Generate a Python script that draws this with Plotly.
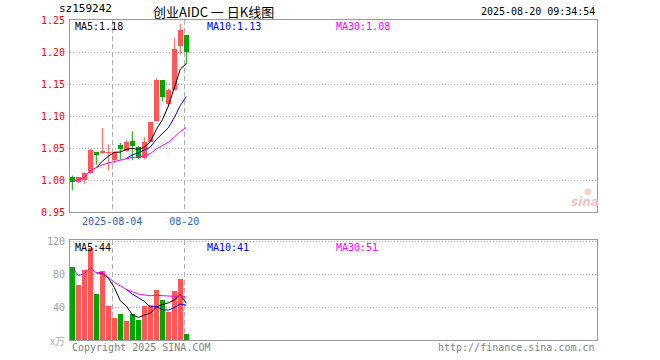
import plotly.graph_objects as go
import pandas as pd

# ---------------- data ----------------
dates = ["07-24", "07-25", "07-28", "07-29", "07-30", "07-31", "08-01", "08-04",
         "08-05", "08-06", "08-07", "08-08", "08-11", "08-12", "08-13", "08-14",
         "08-15", "08-18", "08-19", "08-20"]
open_ = [1.004, 0.997, 1.000, 1.011, 1.043, 1.042, 1.042, 1.032, 1.054, 1.046,
         1.061, 1.052, 1.035, 1.060, 1.092, 1.156, 1.118, 1.141, 1.210, 1.227]
high = [1.007, 1.004, 1.012, 1.048, 1.044, 1.081, 1.056, 1.043, 1.058, 1.062,
        1.076, 1.053, 1.067, 1.091, 1.159, 1.156, 1.143, 1.222, 1.244, 1.227]
low = [0.984, 0.995, 0.994, 1.010, 1.024, 1.041, 1.015, 1.026, 1.032, 1.044,
       1.031, 1.032, 1.032, 1.059, 1.091, 1.123, 1.116, 1.140, 1.196, 1.181]
close = [0.997, 1.004, 1.011, 1.047, 1.039, 1.045, 1.043, 1.043, 1.048, 1.060,
         1.053, 1.035, 1.060, 1.090, 1.156, 1.129, 1.141, 1.205, 1.235, 1.200]
volume = [89.2, 67.6, 85.6, 112.0, 55.6, 84.4, 41.2, 26.8, 31.6, 23.2,
          31.6, 24.4, 41.2, 42.4, 60.4, 48.4, 34.0, 59.2, 74.8, 7.6]

price_ticks = [0.95, 1.00, 1.05, 1.10, 1.15, 1.20, 1.25]
vol_ticks = [40, 80, 120]
date_marks = ["2025-08-04", "08-20"]
date_mark_idx = [7, 19]

header_code = "sz159242"
header_title = "创业AIDC 一 日K线图"
header_time = "2025-08-20 09:34:54"
price_ma_text = ["MA5:1.18", "MA10:1.13", "MA30:1.08"]
vol_ma_text = ["MA5:44", "MA10:41", "MA30:51"]

# ---------------- styles ----------------
RED = "#ff5757"
GREEN = "#00a600"
MA_COLORS = ["#000000", "#0000ff", "#ff00ff"]
FRAME = "#9a9a9a"
GRID = "#b0b0b0"
MONO = "DejaVu Sans Mono"

idx = list(range(len(close)))
up = [c >= o for o, c in zip(open_, close)]
colors = [RED if u else GREEN for u in up]

cs = pd.Series(close)
vs = pd.Series(volume)
price_ma = [cs.rolling(5).mean(), cs.rolling(10).mean(), cs.rolling(30, min_periods=1).mean()]
vol_ma = [vs.rolling(5).mean(), vs.rolling(10).mean(), vs.rolling(30, min_periods=1).mean()]

fig = go.Figure()

# candle wicks
for col in (RED, GREEN):
    xw, yw = [], []
    for i in idx:
        if colors[i] == col:
            xw += [i, i, None]
            yw += [low[i], high[i], None]
    fig.add_trace(go.Scatter(x=xw, y=yw, mode="lines", line=dict(color=col, width=1),
                             xaxis="x", yaxis="y", hoverinfo="skip"))

# candle bodies
fig.add_trace(go.Bar(
    x=idx,
    base=[min(o, c) for o, c in zip(open_, close)],
    y=[max(abs(c - o), 0.0016) for o, c in zip(open_, close)],
    width=0.83, marker=dict(color=colors, line=dict(width=0)),
    xaxis="x", yaxis="y"))

# price MAs
for ma, col in zip(price_ma, MA_COLORS):
    fig.add_trace(go.Scatter(x=idx, y=ma, mode="lines", line=dict(color=col, width=1),
                             xaxis="x", yaxis="y", connectgaps=False))

# volume bars
fig.add_trace(go.Bar(x=idx, y=volume, width=0.83,
                     marker=dict(color=colors, line=dict(width=0)),
                     xaxis="x2", yaxis="y2"))
for ma, col in zip(vol_ma, MA_COLORS):
    fig.add_trace(go.Scatter(x=idx, y=ma, mode="lines", line=dict(color=col, width=1),
                             xaxis="x2", yaxis="y2"))

xrange = [-0.383, 87.45]
mark_x = [i - 0.35 for i in date_mark_idx]

common_x = dict(range=xrange, showgrid=True, gridcolor=GRID, griddash="5px,3px", gridwidth=1,
                showline=True, linecolor=FRAME, linewidth=1, mirror=True, ticks="",
                zeroline=False, fixedrange=True)

fig.update_layout(
    width=660, height=360,
    margin=dict(l=70, r=63, t=20, b=20),
    paper_bgcolor="white", plot_bgcolor="white",
    showlegend=False, barmode="overlay", bargap=0,
    xaxis=dict(domain=[0, 1], anchor="y", tickvals=mark_x, ticktext=date_marks,
               tickfont=dict(family=MONO, size=10, color="#2a62c4"), ticklabelstandoff=0,
               **common_x),
    xaxis2=dict(domain=[0, 1], anchor="y2", matches="x", tickvals=mark_x,
                showticklabels=False, **common_x),
    yaxis=dict(domain=[0.4, 1], range=[0.95, 1.25], tickvals=price_ticks,
               ticktext=[f"{v:.2f}" for v in price_ticks],
               tickfont=dict(family=MONO, size=10, color="#ff0000"),
               showgrid=True, gridcolor=GRID, griddash="1px,2px", gridwidth=1,
               showline=True, linecolor=FRAME, mirror=True, ticks="", zeroline=False,
               ticklabelstandoff=2, fixedrange=True),
    yaxis2=dict(domain=[0, 0.3125], range=[0, 122], tickvals=vol_ticks,
                ticktext=[str(v) for v in vol_ticks],
                tickfont=dict(family=MONO, size=10, color="#a0a0a0"),
                showgrid=True, gridcolor=GRID, griddash="1px,2px", gridwidth=1,
                showline=True, linecolor=FRAME, mirror=True, ticks="", zeroline=False,
                ticklabelstandoff=2, fixedrange=True),
)

def px_x(x):
    return (x - 70) / 527.0

def px_y(y):
    return (340 - y) / 320.0

ann = []
ann.append(dict(text=header_code, x=px_x(57), y=px_y(9), xanchor="left", yanchor="middle",
                font=dict(family=MONO, size=11, color="#000")))
ann.append(dict(text=header_title, x=px_x(213), y=px_y(11), xanchor="center", yanchor="middle",
                font=dict(family="Noto Sans CJK SC", size=13, color="#000")))
ann.append(dict(text=header_time, x=px_x(597), y=px_y(11), xanchor="right", yanchor="middle",
                font=dict(family=MONO, size=10, color="#000")))
for t, xx, col in zip(price_ma_text, [73, 205, 334], MA_COLORS):
    ann.append(dict(text=t, x=px_x(xx), y=px_y(27), xanchor="left", yanchor="middle",
                    font=dict(family=MONO, size=10, color=col)))
for t, xx, col in zip(vol_ma_text, [73, 205, 334], MA_COLORS):
    ann.append(dict(text=t, x=px_x(xx), y=px_y(247), xanchor="left", yanchor="middle",
                    font=dict(family=MONO, size=10, color=col)))
ann.append(dict(text="x万", x=px_x(67), y=px_y(340), xanchor="right", yanchor="middle",
                font=dict(family="Noto Sans CJK SC", size=10, color="#b0b0b0")))
ann.append(dict(text="Copyright 2025 SINA.COM", x=px_x(70), y=px_y(347), xanchor="left",
                yanchor="middle", font=dict(family=MONO, size=10, color="#808080")))
ann.append(dict(text="http://finance.sina.com.cn", x=px_x(597), y=px_y(347), xanchor="right",
                yanchor="middle", font=dict(family=MONO, size=10, color="#808080")))
ann.append(dict(text="<b><i>sina</i></b>", x=px_x(585), y=px_y(202), xanchor="center",
                yanchor="middle", font=dict(family="DejaVu Sans", size=12, color="#ecc4c4")))
ann.append(dict(text="●", x=px_x(588), y=px_y(191), xanchor="center",
                yanchor="middle", font=dict(family="DejaVu Sans", size=9, color="#f2d2d2")))
for a in ann:
    a.update(xref="paper", yref="paper", showarrow=False)
fig.update_layout(annotations=ann)

fig.write_html("out.html",
               config={"displayModeBar": False, "staticPlot": True},
               post_script="document.body.style.margin='0';document.body.style.overflow='hidden';")
